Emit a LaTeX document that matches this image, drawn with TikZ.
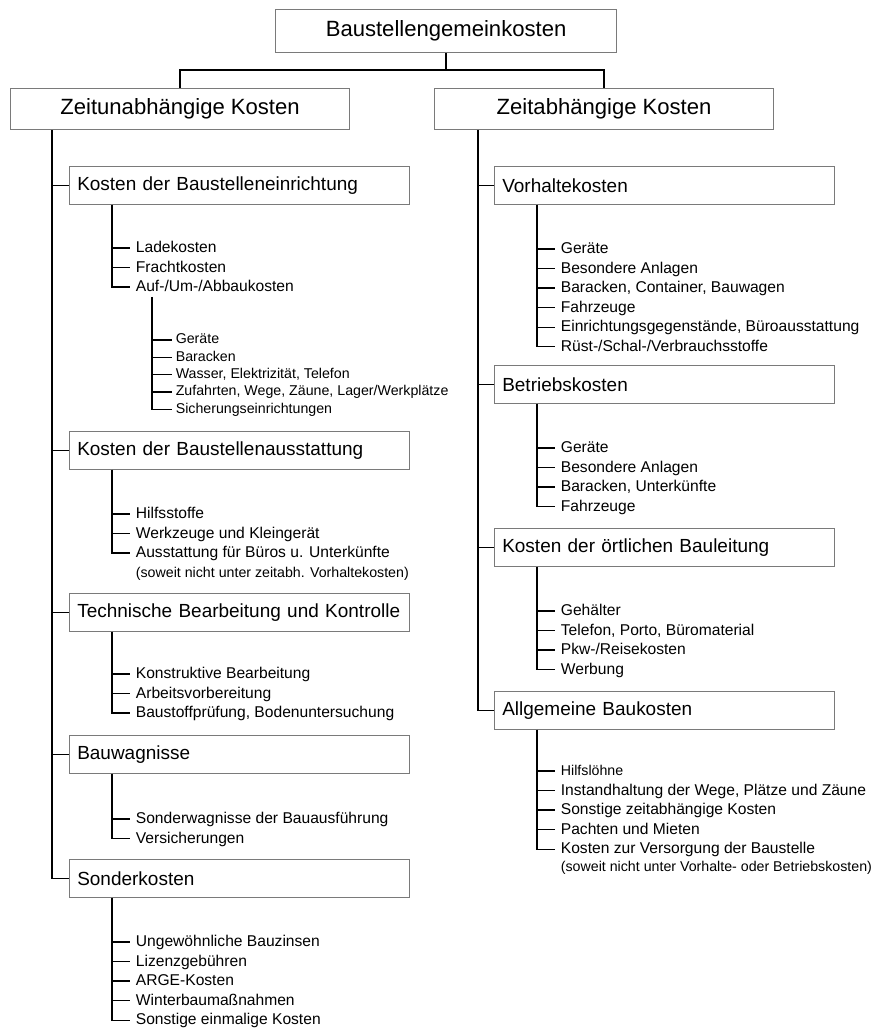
\documentclass[tikz,border=0pt]{standalone}
\usepackage{fontspec}
\setmainfont{Liberation Sans}
\usepackage{tikz}
\usetikzlibrary{positioning}
\definecolor{cFrame}{HTML}{7A7A7A}
\tikzset{
  hbox/.style={draw=cFrame, line width=0.75pt, inner sep=0pt, anchor=north west,
               minimum width=8.475cm, minimum height=1.025cm, font=\fontsize{15.7}{18}\selectfont},
  gbox/.style={draw=cFrame, line width=0.75pt, inner xsep=5.5pt, inner ysep=0pt, anchor=north west,
               text width=230.8pt, align=left, minimum height=0.94cm, font=\fontsize{13.5}{16}\selectfont},
  entry/.style={anchor=west, inner xsep=4pt, inner ysep=0pt, text height=10pt, text depth=3.5pt,
                font=\fontsize{11.1}{13}\selectfont},
  subentry/.style={anchor=west, inner xsep=2.5pt, inner ysep=0pt, text height=8.7pt, text depth=3.2pt,
                   font=\fontsize{10.1}{12}\selectfont},
  note/.style={entry, font=\fontsize{10.1}{12}\selectfont},
  listnext/.style={below=0pt of #1.south west, anchor=north west},
  tree/.style={line width=0.9pt, draw=black},
}

\begin{document}
\begin{tikzpicture}[x=0.025cm,y=-0.025cm]
  \useasboundingbox (0,0) rectangle (875,1028);
  \node[hbox, minimum width=8.525cm, minimum height=1.075cm] (top) at (275,9) {Baustellengemeinkosten};
  \node[hbox] (zu) at (10,88) {Zeitunabhängige Kosten};
  \node[hbox] (za) at (434,88) {Zeitabhängige Kosten};
  \path (top.south) ++(0,17) coordinate (fork);
  \draw[tree] (top.south) -- (fork);
  \draw[tree] (zu.north) |- (fork) -| (za.north);

  % zeitunabhaengige Kosten
  \node[gbox] (kbe) at (69,166) {Kosten der Baustelleneinrichtung};
  \node[entry] (kbe1) at (130,248) {Ladekosten};
  \node[entry, listnext=kbe1] (kbe2) {Frachtkosten};
  \node[entry, listnext=kbe2] (kbe3) {Auf-/Um-/Abbaukosten};
  \node[subentry] (auf1) at (172,340) {Geräte};
  \node[subentry, listnext=auf1] (auf2) {Baracken};
  \node[subentry, listnext=auf2] (auf3) {Wasser, Elektrizität, Telefon};
  \node[subentry, listnext=auf3] (auf4) {Zufahrten, Wege, Zäune, Lager/Werkplätze};
  \node[subentry, listnext=auf4] (auf5) {Sicherungseinrichtungen};

  \node[gbox] (kba) at (69,431) {Kosten der Baustellenausstattung};
  \node[entry] (kba1) at (130,514) {Hilfsstoffe};
  \node[entry, listnext=kba1] (kba2) {Werkzeuge und Kleingerät};
  \node[entry, listnext=kba2] (kba3) {Ausstattung für Büros u. Unterkünfte};
  \node[note, listnext=kba3] (kba4) {(soweit nicht unter zeitabh. Vorhaltekosten)};

  \node[gbox] (tbk) at (69,593) {Technische Bearbeitung und Kontrolle};
  \node[entry] (tbk1) at (130,674) {Konstruktive Bearbeitung};
  \node[entry, listnext=tbk1] (tbk2) {Arbeitsvorbereitung};
  \node[entry, listnext=tbk2] (tbk3) {Baustoffprüfung, Bodenuntersuchung};

  \node[gbox] (bwg) at (69,735) {Bauwagnisse};
  \node[entry] (bwg1) at (130,819) {Sonderwagnisse der Bauausführung};
  \node[entry, listnext=bwg1] (bwg2) {Versicherungen};

  \node[gbox] (sok) at (69,859) {Sonderkosten};
  \node[entry] (sok1) at (130,942) {Ungewöhnliche Bauzinsen};
  \node[entry, listnext=sok1] (sok2) {Lizenzgebühren};
  \node[entry, listnext=sok2] (sok3) {ARGE-Kosten};
  \node[entry, listnext=sok3] (sok4) {Winterbaumaßnahmen};
  \node[entry, listnext=sok4] (sok5) {Sonstige einmalige Kosten};

  \coordinate (zuS) at (52,0 |- zu.south);
  \draw[tree] (zuS) |- (kbe.west) (zuS) |- (kba.west) (zuS) |- (tbk.west)
              (zuS) |- (bwg.west) (zuS) |- (sok.west);
  \coordinate (kbeS) at (112,0 |- kbe.south);
  \draw[tree] (kbeS) |- (kbe1.west) (kbeS) |- (kbe2.west) (kbeS) |- (kbe3.west);
  \coordinate (aufS) at (152,0 |- kbe3.south);
  \draw[tree] (aufS) |- (auf1.west) (aufS) |- (auf2.west) (aufS) |- (auf3.west)
              (aufS) |- (auf4.west) (aufS) |- (auf5.west);
  \coordinate (kbaS) at (112,0 |- kba.south);
  \draw[tree] (kbaS) |- (kba1.west) (kbaS) |- (kba2.west) (kbaS) |- (kba3.west);
  \coordinate (tbkS) at (112,0 |- tbk.south);
  \draw[tree] (tbkS) |- (tbk1.west) (tbkS) |- (tbk2.west) (tbkS) |- (tbk3.west);
  \coordinate (bwgS) at (112,0 |- bwg.south);
  \draw[tree] (bwgS) |- (bwg1.west) (bwgS) |- (bwg2.west);
  \coordinate (sokS) at (112,0 |- sok.south);
  \draw[tree] (sokS) |- (sok1.west) (sokS) |- (sok2.west) (sokS) |- (sok3.west)
              (sokS) |- (sok4.west) (sokS) |- (sok5.west);

  % zeitabhaengige Kosten
  \node[gbox] (vhk) at (494,166) {Vorhaltekosten};
  \node[entry] (vhk1) at (555,249) {Geräte};
  \node[entry, listnext=vhk1] (vhk2) {Besondere Anlagen};
  \node[entry, listnext=vhk2] (vhk3) {Baracken, Container, Bauwagen};
  \node[entry, listnext=vhk3] (vhk4) {Fahrzeuge};
  \node[entry, listnext=vhk4] (vhk5) {Einrichtungsgegenstände, Büroausstattung};
  \node[entry, listnext=vhk5] (vhk6) {Rüst-/Schal-/Verbrauchsstoffe};

  \node[gbox] (bek) at (494,365) {Betriebskosten};
  \node[entry] (bek1) at (555,448) {Geräte};
  \node[entry, listnext=bek1] (bek2) {Besondere Anlagen};
  \node[entry, listnext=bek2] (bek3) {Baracken, Unterkünfte};
  \node[entry, listnext=bek3] (bek4) {Fahrzeuge};

  \node[gbox] (obl) at (494,528) {Kosten der örtlichen Bauleitung};
  \node[entry] (obl1) at (555,611) {Gehälter};
  \node[entry, listnext=obl1] (obl2) {Telefon, Porto, Büromaterial};
  \node[entry, listnext=obl2] (obl3) {Pkw-/Reisekosten};
  \node[entry, listnext=obl3] (obl4) {Werbung};

  \node[gbox] (abk) at (494,691) {Allgemeine Baukosten};
  \node[entry, font=\fontsize{10.1}{12}\selectfont] (abk1) at (555,771) {Hilfslöhne};
  \node[entry, listnext=abk1] (abk2) {Instandhaltung der Wege, Plätze und Zäune};
  \node[entry, listnext=abk2] (abk3) {Sonstige zeitabhängige Kosten};
  \node[entry, listnext=abk3] (abk4) {Pachten und Mieten};
  \node[entry, listnext=abk4] (abk5) {Kosten zur Versorgung der Baustelle};
  \node[note, listnext=abk5, yshift=1pt] (abk6) {(soweit nicht unter Vorhalte- oder Betriebskosten)};

  \coordinate (zaS) at (478,0 |- za.south);
  \draw[tree] (zaS) |- (vhk.west) (zaS) |- (bek.west) (zaS) |- (obl.west) (zaS) |- (abk.west);
  \coordinate (vhkS) at (537,0 |- vhk.south);
  \draw[tree] (vhkS) |- (vhk1.west) (vhkS) |- (vhk2.west) (vhkS) |- (vhk3.west)
              (vhkS) |- (vhk4.west) (vhkS) |- (vhk5.west) (vhkS) |- (vhk6.west);
  \coordinate (bekS) at (537,0 |- bek.south);
  \draw[tree] (bekS) |- (bek1.west) (bekS) |- (bek2.west) (bekS) |- (bek3.west) (bekS) |- (bek4.west);
  \coordinate (oblS) at (537,0 |- obl.south);
  \draw[tree] (oblS) |- (obl1.west) (oblS) |- (obl2.west) (oblS) |- (obl3.west) (oblS) |- (obl4.west);
  \coordinate (abkS) at (537,0 |- abk.south);
  \draw[tree] (abkS) |- (abk1.west) (abkS) |- (abk2.west) (abkS) |- (abk3.west)
              (abkS) |- (abk4.west) (abkS) |- (abk5.west);
\end{tikzpicture}
\end{document}
